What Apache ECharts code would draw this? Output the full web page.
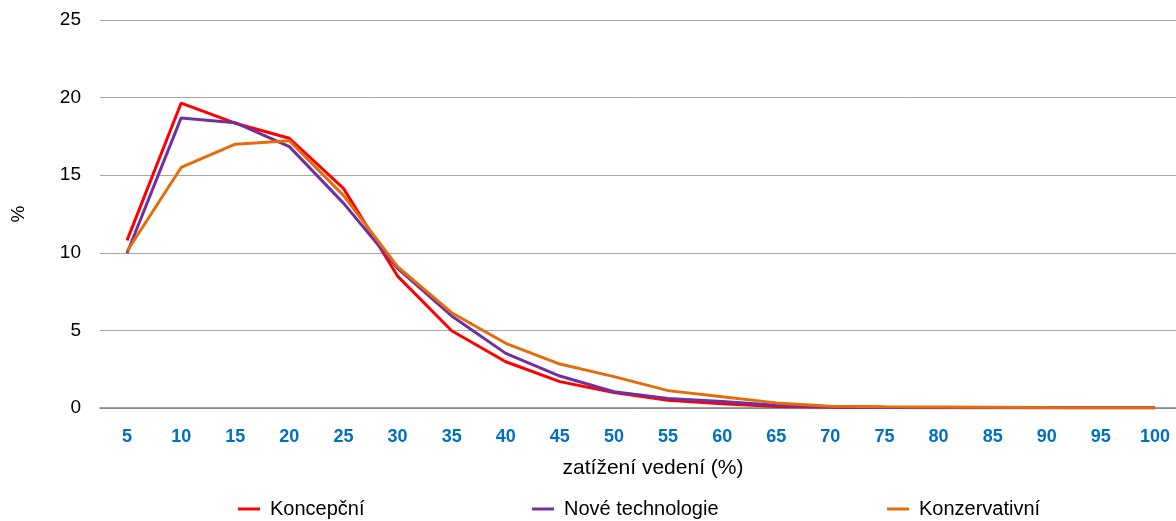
<!DOCTYPE html>
<html><head><meta charset="utf-8">
<script src="https://cdn.jsdelivr.net/npm/echarts@6/dist/echarts.min.js"></script>
<style>html,body{margin:0;padding:0;background:#fff}#c{width:1176px;height:521px}</style>
</head><body><div id="c"></div>
<script>
const categories = ['5','10','15','20','25','30','35','40','45','50','55','60','65','70','75','80','85','90','95','100'];
const koncepcni = [10.8,19.65,18.35,17.38,14.15,8.5,4.98,2.98,1.7,1.0,0.5,0.28,0.1,0.05,0.03,0.02,0.02,0.01,0.01,0.01];
const noveTechnologie = [9.97,18.69,18.38,16.84,13.2,9.0,5.93,3.52,2.06,1.05,0.62,0.42,0.18,0.08,0.05,0.04,0.03,0.02,0.01,0.01];
const konzervativni = [10.1,15.5,17.0,17.22,13.7,9.1,6.14,4.17,2.83,2.02,1.12,0.73,0.33,0.12,0.08,0.07,0.05,0.03,0.02,0.01];
const seriesNames = ['Koncepční','Nové technologie','Konzervativní'];
const yTicks = [0,5,10,15,20,25];

const colors = ['#FF0000','#7030A0','#E46C0A'];
const chart = echarts.init(document.getElementById('c'));
const font = 'Liberation Sans, Arial, sans-serif';
const legendPos = [233, 527, 882];
chart.setOption({
  animation: false,
  grid: {left: 100, right: -6, top: 20, bottom: 113, containLabel: false, outerBoundsMode: 'none'},
  xAxis: {
    type: 'category', data: categories, boundaryGap: true,
    name: 'zatížení vedení (%)', nameLocation: 'middle', nameGap: 50,
    nameTextStyle: {color: '#000', fontSize: 21, fontFamily: font, padding: [0,0,0,24]},
    axisLine: {lineStyle: {color: '#808080', width: 1.5}},
    axisTick: {show: false},
    axisLabel: {color: '#0070C0', fontWeight: 'bold', fontSize: 18, fontFamily: font, margin: 20}
  },
  yAxis: {
    type: 'value', min: yTicks[0], max: yTicks[yTicks.length-1], interval: 5,
    name: '%', nameLocation: 'middle', nameGap: 72, nameRotate: 90,
    nameTextStyle: {color: '#000', fontSize: 19, fontFamily: font},
    axisLine: {show: false}, axisTick: {show: false},
    axisLabel: {color: '#000', fontSize: 19, fontFamily: font, margin: 19},
    splitLine: {lineStyle: {color: '#A6A6A6', width: 1}}
  },
  legend: seriesNames.map((n, i) => ({
    data: [n], left: legendPos[i], top: 494, icon: 'rect', itemWidth: 22, itemHeight: 3, itemGap: 0,
    textStyle: {color: '#000', fontSize: 20, fontFamily: font, padding: [0,0,0,5]}
  })),
  series: [koncepcni, noveTechnologie, konzervativni].map((d, i) => ({
    name: seriesNames[i], type: 'line', data: d, showSymbol: false, symbol: 'none',
    lineStyle: {color: colors[i], width: 3}, itemStyle: {color: colors[i]}
  }))
});
</script></body></html>
